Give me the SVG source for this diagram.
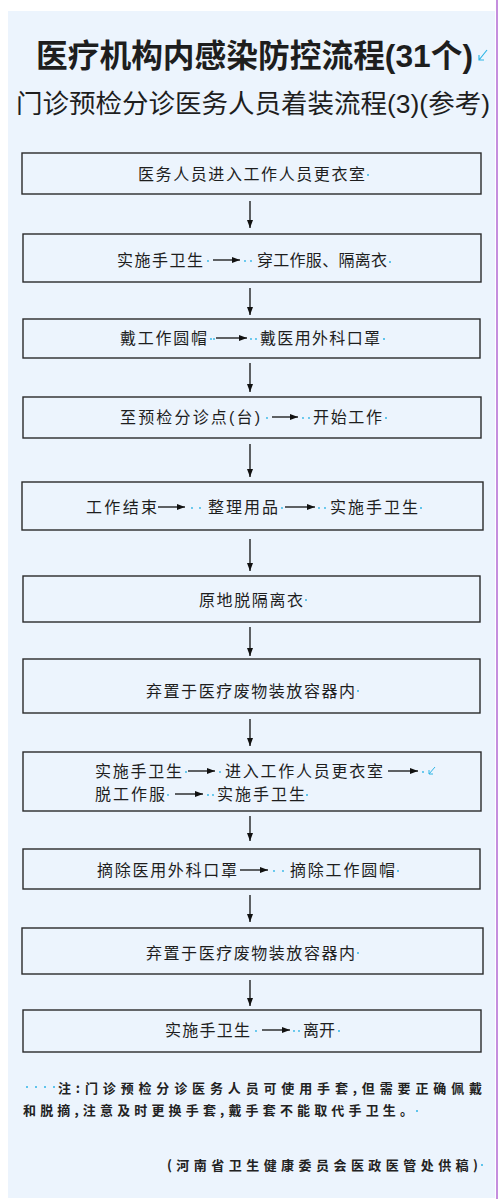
<svg xmlns="http://www.w3.org/2000/svg" width="500" height="1199" viewBox="0 0 500 1199">
<style>
.t{font-family:"Liberation Sans","Noto Sans CJK SC",sans-serif;fill:#1e1e1e}
.bx{fill:none;stroke:#2a2a2a;stroke-width:1.4}
.lbl{font-size:16px}
.con{stroke:#111;stroke-width:1.3;fill:none}
.fm{fill:#2fb5e6}
.note{font-family:"Noto Sans CJK SC",sans-serif;font-size:13px;font-weight:700;fill:#222}
</style>
<defs>
<marker id="ah" markerWidth="8" markerHeight="6" refX="8" refY="3" orient="auto" markerUnits="userSpaceOnUse">
<path d="M0,0 L8,3 L0,6 z" fill="#111"/>
</marker>
</defs>
<rect x="0" y="0" width="500" height="1199" fill="#ffffff"/>
<rect x="8" y="11" width="487" height="1187" fill="#ecf4fd"/>
<line x1="497" y1="0" x2="497" y2="1199" stroke="#b672d6" stroke-width="1.6"/>

<g id="title">
<text class="t" x="36" y="67" font-size="32" font-weight="700" textLength="437" lengthAdjust="spacingAndGlyphs">医疗机构内感染防控流程(31个)</text>
<path d="M487,50 L479,60 M479,55 L479,60 L484,60" stroke="#2fb5e6" stroke-width="1.2" fill="none"/>
<text class="t" x="16" y="113" font-size="26" textLength="474" lengthAdjust="spacingAndGlyphs" fill="#2a2a2a">门诊预检分诊医务人员着装流程(3)(参考)</text>
</g>

<g id="connectors">
<line class="con" x1="250" y1="201" x2="250" y2="228" marker-end="url(#ah)"/>
<line class="con" x1="250" y1="288" x2="250" y2="315" marker-end="url(#ah)"/>
<line class="con" x1="250" y1="363" x2="250" y2="392" marker-end="url(#ah)"/>
<line class="con" x1="250" y1="444" x2="250" y2="477" marker-end="url(#ah)"/>
<line class="con" x1="250" y1="539" x2="250" y2="571" marker-end="url(#ah)"/>
<line class="con" x1="250" y1="627" x2="250" y2="656" marker-end="url(#ah)"/>
<line class="con" x1="250" y1="719" x2="250" y2="746" marker-end="url(#ah)"/>
<line class="con" x1="250" y1="816" x2="250" y2="841" marker-end="url(#ah)"/>
<line class="con" x1="250" y1="895" x2="250" y2="922" marker-end="url(#ah)"/>
<line class="con" x1="250" y1="980" x2="250" y2="1006" marker-end="url(#ah)"/>
</g>

<g id="n1">
<rect class="bx" x="22" y="153" width="459" height="41"/>
<text class="t lbl" x="138" y="180" textLength="227">医务人员进入工作人员更衣室</text>
<circle class="fm" cx="368" cy="175" r="1"/>
</g>

<g id="n2">
<rect class="bx" x="23" y="234" width="458" height="48"/>
<text class="t lbl" x="117" y="266" textLength="86">实施手卫生</text>
<circle class="fm" cx="208" cy="261" r="0.9"/>
<line class="con" x1="213" y1="260" x2="240" y2="260" marker-end="url(#ah)"/>
<circle class="fm" cx="245" cy="261" r="0.9"/><circle class="fm" cx="251" cy="261" r="0.9"/>
<text class="t lbl" x="257" y="266" textLength="130">穿工作服、隔离衣</text>
<circle class="fm" cx="390" cy="262" r="1"/>
</g>

<g id="n3">
<rect class="bx" x="23" y="319" width="457" height="39"/>
<text class="t lbl" x="120" y="344" textLength="87">戴工作圆帽</text>
<circle class="fm" cx="211" cy="339" r="0.9"/><circle class="fm" cx="214" cy="339" r="0.9"/>
<line class="con" x1="216" y1="338" x2="247" y2="338" marker-end="url(#ah)"/>
<circle class="fm" cx="251" cy="339" r="0.9"/><circle class="fm" cx="256" cy="339" r="0.9"/>
<text class="t lbl" x="260" y="344" textLength="120">戴医用外科口罩</text>
<circle class="fm" cx="384" cy="339" r="1"/>
</g>

<g id="n4">
<rect class="bx" x="23" y="397" width="458" height="41"/>
<text class="t lbl" x="120" y="423" textLength="140">至预检分诊点(台)</text>
<circle class="fm" cx="267" cy="418" r="0.9"/>
<line class="con" x1="272" y1="417" x2="298" y2="417" marker-end="url(#ah)"/>
<circle class="fm" cx="303" cy="418" r="0.9"/><circle class="fm" cx="309" cy="418" r="0.9"/>
<text class="t lbl" x="313" y="423" textLength="69">开始工作</text>
<circle class="fm" cx="386" cy="418" r="1"/>
</g>

<g id="n5">
<rect class="bx" x="22" y="482" width="461" height="48"/>
<text class="t lbl" x="86" y="513" textLength="71">工作结束</text>
<line class="con" x1="158" y1="507" x2="185" y2="507" marker-end="url(#ah)"/>
<circle class="fm" cx="192" cy="508" r="0.9"/><circle class="fm" cx="200" cy="508" r="0.9"/>
<text class="t lbl" x="208" y="513" textLength="70">整理用品</text>
<circle class="fm" cx="282" cy="508" r="0.9"/>
<line class="con" x1="285" y1="507" x2="315" y2="507" marker-end="url(#ah)"/>
<circle class="fm" cx="319" cy="508" r="0.9"/><circle class="fm" cx="325" cy="508" r="0.9"/>
<text class="t lbl" x="330" y="513" textLength="88">实施手卫生</text>
<circle class="fm" cx="421" cy="508" r="1"/>
</g>

<g id="n6">
<rect class="bx" x="23" y="576" width="457" height="46"/>
<text class="t lbl" x="199" y="606" textLength="104">原地脱隔离衣</text>
<circle class="fm" cx="306" cy="600" r="1"/>
</g>

<g id="n7">
<rect class="bx" x="23" y="659" width="457" height="54"/>
<text class="t lbl" x="146" y="697" textLength="209">弃置于医疗废物装放容器内</text>
<circle class="fm" cx="358" cy="691" r="1"/>
</g>

<g id="n8">
<rect class="bx" x="23" y="752" width="458" height="59"/>
<text class="t lbl" x="95" y="777" textLength="87">实施手卫生</text>
<circle class="fm" cx="186" cy="772" r="0.9"/>
<line class="con" x1="188" y1="771" x2="215" y2="771" marker-end="url(#ah)"/>
<circle class="fm" cx="220" cy="772" r="0.9"/>
<text class="t lbl" x="225" y="777" textLength="158">进入工作人员更衣室</text>
<line class="con" x1="388" y1="771" x2="418" y2="771" marker-end="url(#ah)"/>
<circle class="fm" cx="423" cy="772" r="0.9"/>
<path d="M435,767 L429,774 M429,770 L429,774 L433,774" stroke="#2fb5e6" stroke-width="1" fill="none"/>
<text class="t lbl" x="95" y="800" textLength="70">脱工作服</text>
<circle class="fm" cx="168" cy="795" r="0.9"/>
<line class="con" x1="175" y1="794" x2="203" y2="794" marker-end="url(#ah)"/>
<circle class="fm" cx="208" cy="795" r="0.9"/><circle class="fm" cx="213" cy="795" r="0.9"/>
<text class="t lbl" x="217" y="800" textLength="88">实施手卫生</text>
<circle class="fm" cx="307" cy="795" r="1"/>
</g>

<g id="n9">
<rect class="bx" x="23" y="849" width="457" height="40"/>
<text class="t lbl" x="97" y="876" textLength="140">摘除医用外科口罩</text>
<line class="con" x1="240" y1="870" x2="268" y2="870" marker-end="url(#ah)"/>
<circle class="fm" cx="274" cy="871" r="0.9"/><circle class="fm" cx="283" cy="871" r="0.9"/>
<text class="t lbl" x="290" y="876" textLength="105">摘除工作圆帽</text>
<circle class="fm" cx="398" cy="871" r="1"/>
</g>

<g id="n10">
<rect class="bx" x="22" y="928" width="461" height="46"/>
<text class="t lbl" x="146" y="959" textLength="209">弃置于医疗废物装放容器内</text>
<circle class="fm" cx="358" cy="953" r="1"/>
</g>

<g id="n11">
<rect class="bx" x="23" y="1010" width="458" height="42"/>
<text class="t lbl" x="165" y="1036" textLength="85">实施手卫生</text>
<circle class="fm" cx="256" cy="1031" r="0.9"/>
<line class="con" x1="262" y1="1030" x2="290" y2="1030" marker-end="url(#ah)"/>
<circle class="fm" cx="294" cy="1031" r="0.9"/><circle class="fm" cx="299" cy="1031" r="0.9"/>
<text class="t lbl" x="303" y="1036" textLength="32">离开</text>
<circle class="fm" cx="339" cy="1031" r="1"/>
</g>

<g id="note">
<circle class="fm" cx="27" cy="1087" r="1"/><circle class="fm" cx="36" cy="1087" r="1"/><circle class="fm" cx="45" cy="1087" r="1"/><circle class="fm" cx="54" cy="1087" r="1"/>
<text class="note" x="58" y="1093" textLength="424" lengthAdjust="spacing">注:门诊预检分诊医务人员可使用手套,但需要正确佩戴</text>
<text class="note" x="23" y="1115" textLength="390" lengthAdjust="spacing">和脱摘,注意及时更换手套,戴手套不能取代手卫生。</text>
<circle class="fm" cx="417" cy="1111" r="1"/>
<text class="note" x="167" y="1170" textLength="311" lengthAdjust="spacing">(河南省卫生健康委员会医政医管处供稿)</text>
<circle class="fm" cx="482" cy="1165" r="1"/>
</g>
</svg>
